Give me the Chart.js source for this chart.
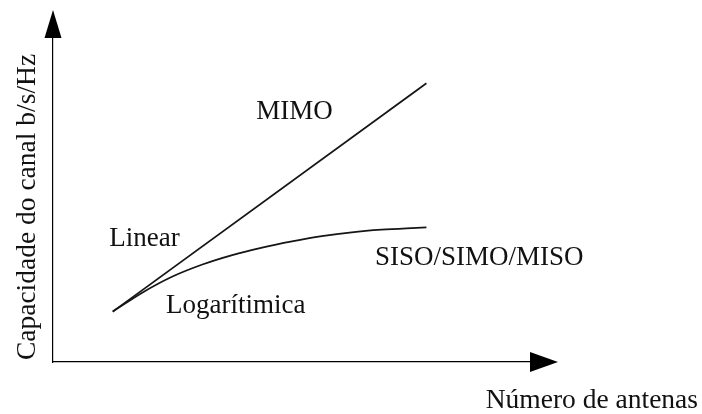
<!DOCTYPE html>
<html><head><meta charset="utf-8">
<script src="https://cdn.jsdelivr.net/npm/chart.js@4.4.1/dist/chart.umd.min.js"></script>
<style>html,body{margin:0;padding:0;background:#fff;}#wrap{width:702px;height:414px;}</style>
</head><body><div id="wrap"><canvas id="c" width="702" height="414"></canvas></div>
<script>
// Data (schematic values)
const logAntennas = [1, 1.5, 2, 2.5, 3, 3.5, 4, 4.5, 5, 5.5, 6, 6.25];
const logCapacity = [1.55, 2.14, 2.63, 3.00, 3.29, 3.52, 3.71, 3.87, 3.99, 4.07, 4.12, 4.14];
const mimoAntennas = [1, 6.25];
const mimoCapacity = [1.55, 8.58];
const xAxisTitle = 'Número de antenas';
const yAxisTitle = 'Capacidade do canal b/s/Hz';
const curveLabels = ['MIMO', 'Linear', 'Logarítimica', 'SISO/SIMO/MISO'];

const toPts = (xs, ys) => xs.map((x, i) => ({x: x, y: ys[i]}));

// label anchors in data units (left/baseline)
const labelAnchors = [
  {x: 3.40, y: 7.48},
  {x: 0.94, y: 3.57},
  {x: 1.89, y: 1.51},
  {x: 5.39, y: 2.98}
];

const FONT = '"Liberation Serif", "Times New Roman", serif';
const INK = '#111';

const decor = {
  id: 'decor',
  afterDraw(chart) {
    const ctx = chart.ctx, a = chart.chartArea;
    const xs = chart.scales.x, ys = chart.scales.y;
    ctx.save();
    ctx.fillStyle = '#000';
    // y arrow
    ctx.beginPath();
    ctx.moveTo(a.left, a.top - 27);
    ctx.lineTo(a.left - 8.5, a.top + 1);
    ctx.lineTo(a.left + 8.5, a.top + 1);
    ctx.closePath(); ctx.fill();
    // x arrow
    ctx.beginPath();
    ctx.moveTo(a.right + 27, a.bottom);
    ctx.lineTo(a.right - 1, a.bottom - 10);
    ctx.lineTo(a.right - 1, a.bottom + 10);
    ctx.closePath(); ctx.fill();

    ctx.fillStyle = INK;
    ctx.textBaseline = 'alphabetic';
    ctx.font = '27px ' + FONT;
    ctx.textAlign = 'left';
    curveLabels.forEach((t, i) => {
      ctx.fillText(t, xs.getPixelForValue(labelAnchors[i].x), ys.getPixelForValue(labelAnchors[i].y));
    });
    // axis titles
    ctx.font = '27.5px ' + FONT;
    ctx.textAlign = 'right';
    ctx.fillText(xAxisTitle, 698, 408);
    ctx.save();
    ctx.translate(35, 207);
    ctx.rotate(-Math.PI / 2);
    ctx.textAlign = 'center';
    ctx.fillText(yAxisTitle, 0, 0);
    ctx.restore();
    ctx.restore();
  }
};

new Chart(document.getElementById('c'), {
  type: 'line',
  data: {
    datasets: [
      {label: 'MIMO', data: toPts(mimoAntennas, mimoCapacity), borderColor: '#151515', borderWidth: 1.8, pointRadius: 0, fill: false},
      {label: 'SISO/SIMO/MISO', data: toPts(logAntennas, logCapacity), borderColor: '#151515', borderWidth: 1.8, pointRadius: 0, fill: false, cubicInterpolationMode: 'monotone'}
    ]
  },
  options: {
    responsive: false,
    animation: false,
    devicePixelRatio: 1,
    layout: {padding: {left: 53, top: 37, right: 171, bottom: 52}},
    plugins: {legend: {display: false}, tooltip: {enabled: false}},
    scales: {
      x: {type: 'linear', min: 0, max: 8, grid: {display: false, drawTicks: false}, ticks: {display: false},
          border: {display: true, color: '#000', width: 1.2}},
      y: {type: 'linear', min: 0, max: 10, grid: {display: false, drawTicks: false}, ticks: {display: false},
          border: {display: true, color: '#000', width: 1.2}}
    }
  },
  plugins: [decor]
});
</script></body></html>
